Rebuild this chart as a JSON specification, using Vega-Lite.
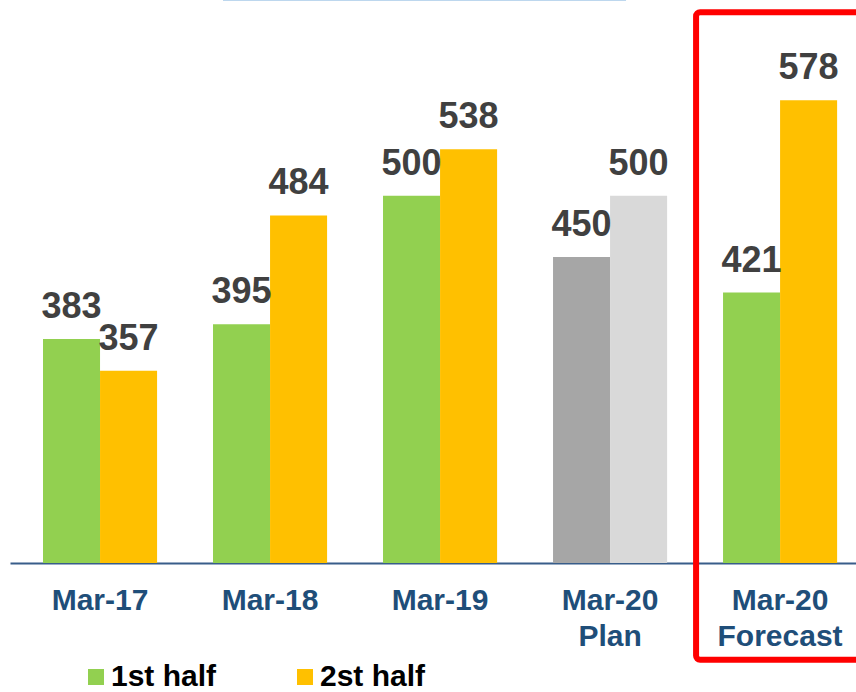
{
  "$schema": "https://vega.github.io/schema/vega-lite/v6.json",
  "width": 846,
  "height": 563,
  "autosize": {"type": "none"},
  "padding": {"left": 10, "top": 0, "right": 0, "bottom": 129},
  "background": "white",
  "config": {"view": {"stroke": null}, "font": "Liberation Sans"},
  "datasets": {
    "bars": [
      {"cat": "Mar-17", "half": "1st", "series": "1st half", "value": 383},
      {"cat": "Mar-17", "half": "2nd", "series": "2st half", "value": 357},
      {"cat": "Mar-18", "half": "1st", "series": "1st half", "value": 395},
      {"cat": "Mar-18", "half": "2nd", "series": "2st half", "value": 484},
      {"cat": "Mar-19", "half": "1st", "series": "1st half", "value": 500},
      {"cat": "Mar-19", "half": "2nd", "series": "2st half", "value": 538},
      {"cat": "Mar-20|Plan", "half": "1st", "series": "1st plan", "value": 450},
      {"cat": "Mar-20|Plan", "half": "2nd", "series": "2st plan", "value": 500},
      {"cat": "Mar-20|Forecast", "half": "1st", "series": "1st half", "value": 421},
      {"cat": "Mar-20|Forecast", "half": "2nd", "series": "2st half", "value": 578}
    ],
    "box": [{"cat": "Mar-20|Forecast", "top": 650, "bottom": 121}],
    "topline": [{"from": "Mar-18", "to": "Mar-20|Plan", "level": 660}]
  },
  "layer": [
    {
      "data": {"name": "bars"},
      "mark": {"type": "bar"},
      "encoding": {
        "x": {
          "field": "cat", "type": "nominal",
          "scale": {"domain": ["Mar-17", "Mar-18", "Mar-19", "Mar-20|Plan", "Mar-20|Forecast"], "paddingInner": 0.329, "paddingOuter": 0.1526, "align": 0.636},
          "axis": {
            "title": null, "labelAngle": 0, "ticks": false, "tickSize": 0,
            "labelPadding": 22, "labelFontSize": 30, "labelFontWeight": "bold",
            "labelColor": "#1F4E79", "labelLineHeight": 36,
            "labelExpr": "split(datum.label, '|')",
            "domainColor": "#385D8A", "domainWidth": 2, "grid": false
          }
        },
        "xOffset": {"field": "half", "type": "nominal", "scale": {"domain": ["1st", "2nd"]}},
        "y": {
          "field": "value", "type": "quantitative",
          "scale": {"domain": [200, 660], "zero": false, "nice": false},
          "axis": null
        },
        "y2": {"datum": 200},
        "color": {
          "field": "series", "type": "nominal",
          "scale": {
            "domain": ["1st half", "2st half", "1st plan", "2st plan"],
            "range": ["#92D050", "#FFC000", "#A6A6A6", "#D9D9D9"]
          },
          "legend": {
            "values": ["1st half", "2st half"],
            "title": null,
            "orient": "none",
            "direction": "horizontal",
            "legendX": 71,
            "legendY": 662,
            "padding": 0,
            "symbolType": "square",
            "symbolSize": 256,
            "symbolStrokeWidth": 0,
            "labelFontSize": 30,
            "labelFontWeight": "bold",
            "labelColor": "#000000",
            "labelOffset": 0,
            "columnPadding": 73,
            "labelLimit": 300
          }
        }
      }
    },
    {
      "data": {"name": "bars"},
      "mark": {"type": "text", "fontSize": 36, "fontWeight": "bold", "color": "#404040", "baseline": "alphabetic", "dy": -21},
      "encoding": {
        "x": {"field": "cat", "type": "nominal"},
        "xOffset": {"field": "half", "type": "nominal"},
        "y": {"field": "value", "type": "quantitative"},
        "text": {"field": "value", "type": "quantitative"}
      }
    },
    {
      "data": {"name": "box"},
      "mark": {"type": "rect", "fill": null, "filled": false, "stroke": "#FF0000", "strokeWidth": 6, "cornerRadius": 4, "width": 168, "clip": false},
      "encoding": {
        "x": {"field": "cat", "type": "nominal"},
        "y": {"field": "top", "type": "quantitative"},
        "y2": {"field": "bottom"}
      }
    },
    {
      "data": {"name": "topline"},
      "mark": {"type": "rule", "stroke": "#BDD7EE", "strokeWidth": 2, "xOffset": 10, "x2Offset": 73},
      "encoding": {
        "x": {"field": "from", "type": "nominal", "bandPosition": 0},
        "x2": {"field": "to", "bandPosition": 0},
        "y": {"field": "level", "type": "quantitative"}
      }
    }
  ]
}
